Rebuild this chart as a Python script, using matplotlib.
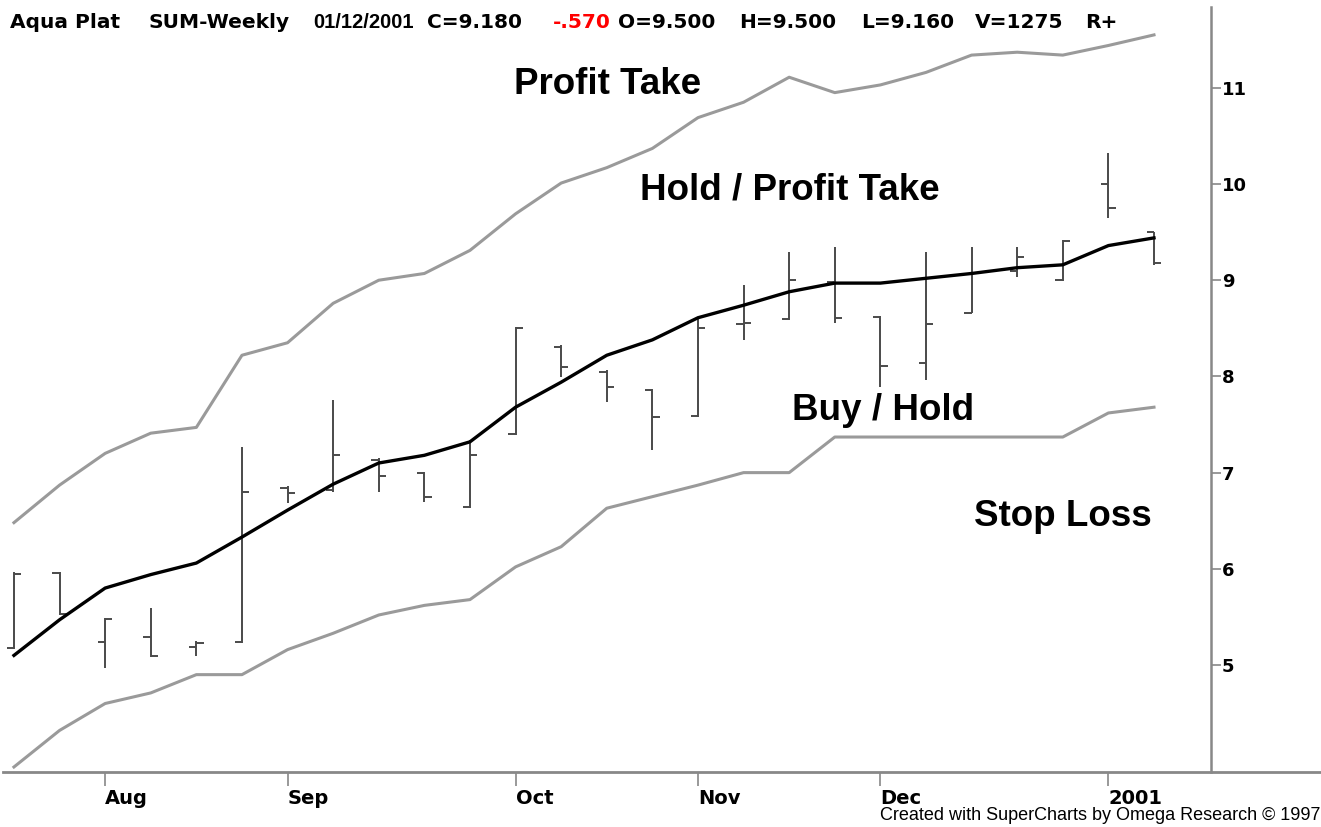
import matplotlib
matplotlib.use("Agg")
import matplotlib.pyplot as plt
from matplotlib.lines import Line2D

plt.rcParams['font.family'] = ['Liberation Sans', 'DejaVu Sans']

# ---- data ----
weeks = list(range(26))
opens  = [5.18, 5.96, 5.24, 5.29, 5.19, 5.24, 6.84, 6.82, 7.13, 7.00, 6.64, 7.40, 8.31,
          8.05, 7.86, 7.59, 8.55, 8.60, 8.98, 8.62, 8.14, 8.66, 9.10, 9.00, 10.00, 9.50]
highs  = [5.97, 5.97, 5.49, 5.59, 5.25, 7.27, 6.86, 7.75, 7.15, 7.01, 7.34, 8.51, 8.33,
          8.07, 7.87, 8.61, 8.95, 9.29, 9.35, 8.63, 9.29, 9.35, 9.35, 9.42, 10.32, 9.50]
lows   = [5.17, 5.52, 4.97, 5.08, 5.09, 5.23, 6.68, 6.80, 6.80, 6.69, 6.63, 7.39, 7.99,
          7.73, 7.23, 7.58, 8.38, 8.59, 8.56, 7.89, 7.96, 8.66, 9.03, 8.99, 9.65, 9.16]
closes = [5.95, 5.53, 5.48, 5.09, 5.23, 6.80, 6.79, 7.18, 6.97, 6.75, 7.18, 8.50, 8.10,
          7.89, 7.58, 8.50, 8.56, 9.00, 8.61, 8.11, 8.55, 9.07, 9.24, 9.41, 9.75, 9.18]
avg_line = [5.10, 5.47, 5.80, 5.94, 6.06, 6.33, 6.61, 6.88, 7.10, 7.18, 7.32, 7.68, 7.94,
            8.22, 8.38, 8.61, 8.74, 8.88, 8.97, 8.97, 9.02, 9.07, 9.13, 9.16, 9.36, 9.44]
upper_band = [6.48, 6.87, 7.20, 7.41, 7.47, 8.22, 8.35, 8.76, 9.00, 9.07, 9.31, 9.69, 10.01,
              10.17, 10.37, 10.69, 10.85, 11.11, 10.95, 11.03, 11.16, 11.34, 11.37, 11.34, 11.44, 11.55]
lower_band = [3.94, 4.32, 4.60, 4.71, 4.90, 4.90, 5.16, 5.33, 5.52, 5.62, 5.68, 6.02, 6.23,
              6.63, 6.75, 6.87, 7.00, 7.00, 7.37, 7.37, 7.37, 7.37, 7.37, 7.37, 7.62, 7.68]
month_ticks = [2, 6, 11, 15, 19, 24]
month_labels = ['Aug', 'Sep', 'Oct', 'Nov', 'Dec', '2001']
price_ticks = [5, 6, 7, 8, 9, 10, 11]

W, H = 1321, 827
fig = plt.figure(figsize=(W / 100, H / 100), dpi=100)
fig.patch.set_facecolor('white')
ax = fig.add_axes([3 / W, 1 - 772 / H, (1211 - 3) / W, (772 - 7) / H])
ax.set_facecolor('white')

# bands
ax.plot(weeks, upper_band, color='#9a9a9a', lw=2.2, zorder=2)
ax.plot(weeks, lower_band, color='#9a9a9a', lw=2.2, zorder=2)

# OHLC bars
tw = 0.16
bar_col = '#4a4a4a'
for x, o, h, l, c in zip(weeks, opens, highs, lows, closes):
    ax.plot([x, x], [l, h], color=bar_col, lw=1.4, zorder=3, solid_capstyle='butt')
    ax.plot([x - tw, x], [o, o], color=bar_col, lw=1.4, zorder=3, solid_capstyle='butt')
    ax.plot([x, x + tw], [c, c], color=bar_col, lw=1.4, zorder=3, solid_capstyle='butt')

# average line
ax.plot(weeks, avg_line, color='black', lw=2.4, zorder=4)

ax.set_xlim(-0.24, 26.25)
ax.set_ylim(3.888, 11.84)

for s in ['top', 'left', 'bottom']:
    ax.spines[s].set_visible(False)
ax.spines['right'].set_color('#888888')
ax.spines['right'].set_linewidth(1.8)

ax.yaxis.tick_right()
ax.set_yticks(price_ticks)
ax.set_yticklabels([str(v) for v in price_ticks], fontsize=13, fontweight='bold',
                   family=['DejaVu Sans'])
ax.tick_params(axis='y', direction='out', length=7, width=1.2, colors='#888888',
               labelcolor='black', pad=1)

ax.set_xticks(month_ticks)
ax.set_xticklabels(month_labels, fontsize=14, fontweight='bold', family=['DejaVu Sans'])
for lab in ax.get_xticklabels():
    lab.set_horizontalalignment('left')
ax.tick_params(axis='x', direction='out', length=10, width=1.2, colors='#888888',
               labelcolor='black', pad=2)

# bottom axis line spanning full width
fig.add_artist(Line2D([3 / W, 1.0], [1 - 772 / H, 1 - 772 / H], color='#888888', lw=2.0,
                      transform=fig.transFigure))


def fig_text(px, py, s, **kw):
    fig.text(px / W, 1 - py / H, s, **kw)


# zone labels
zkw = dict(fontsize=26.5, fontweight='bold', color='black', ha='center', va='center')
fig_text(608, 84, 'Profit Take', **zkw)
fig_text(790, 190, 'Hold / Profit Take', **zkw)
fig_text(883, 411, 'Buy / Hold', **zkw)
fig_text(1063, 516, 'Stop Loss', **zkw)

# header
header = [(10, 'Aqua Plat', 'black', 'DejaVu Sans', 14.5),
          (148, 'SUM-Weekly', 'black', 'DejaVu Sans', 14.5),
          (313, '01/12/2001', 'black', 'Liberation Sans', 14.5),
          (427, 'C=9.180', 'black', 'DejaVu Sans', 14.5),
          (553, '-.570', 'red', 'DejaVu Sans', 14.5),
          (618, 'O=9.500', 'black', 'DejaVu Sans', 14.5),
          (739, 'H=9.500', 'black', 'DejaVu Sans', 14.5),
          (861, 'L=9.160', 'black', 'DejaVu Sans', 14.5),
          (975, 'V=1275', 'black', 'DejaVu Sans', 14.5),
          (1085, 'R+', 'black', 'DejaVu Sans', 14.5)]
for px, s, col, fam, fs in header:
    fig_text(px, 22, s, color=col, fontsize=fs, fontweight='bold', ha='left', va='center',
             family=[fam])

fig_text(1320, 815, 'Created with SuperCharts by Omega Research \u00a9 1997',
         fontsize=13, ha='right', va='center', color='black')

fig.savefig('out.png', dpi=100, facecolor='white')
